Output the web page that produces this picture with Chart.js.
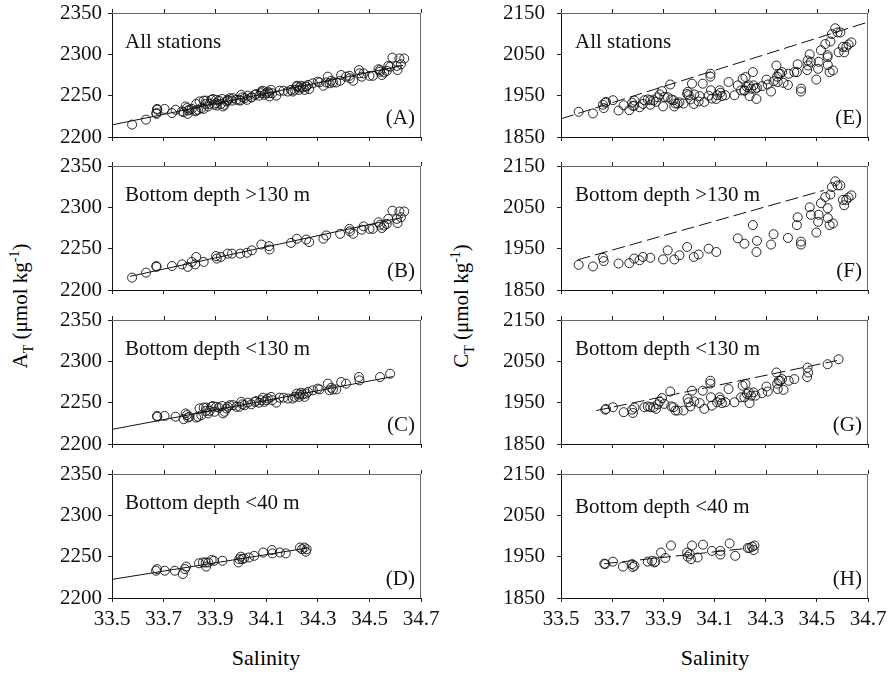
<!DOCTYPE html>
<html><head><meta charset="utf-8">
<script src="https://cdn.jsdelivr.net/npm/chart.js@4"></script>
<style>
html,body{margin:0;padding:0;background:#fff;}
#wrap{position:relative;width:890px;height:676px;overflow:hidden;background:#fff;font-family:'Liberation Serif','DejaVu Serif',serif;color:#000;}
canvas{position:absolute;}
.ytitle{position:absolute;white-space:nowrap;font-size:21px;font-family:'Liberation Serif','DejaVu Serif',serif;transform:translate(-50%,-50%) rotate(-90deg);}
.ytitle sub,.ytitle sup{font-size:14px;}
.xtitle{position:absolute;white-space:nowrap;font-size:22px;font-family:'Liberation Serif','DejaVu Serif',serif;transform:translate(-50%,-50%);}
</style></head>
<body><div id="wrap">
<div class="ytitle" style="left:22px;top:306px">A<sub>T</sub> (μmol kg<sup>-1</sup>)</div>
<div class="ytitle" style="left:463px;top:306px">C<sub>T</sub> (μmol kg<sup>-1</sup>)</div>
<div class="xtitle" style="left:266px;top:658px">Salinity</div>
<div class="xtitle" style="left:715px;top:658px">Salinity</div>
</div>
<script>
// ---- data: [salinity, value] ----
const salTicks = [33.5, 33.7, 33.9, 34.1, 34.3, 34.5, 34.7];
const panelTitles = ["All stations", "Bottom depth >130 m", "Bottom depth <130 m", "Bottom depth <40 m"];
const panelLettersAT = ["(A)", "(B)", "(C)", "(D)"];
const panelLettersCT = ["(E)", "(F)", "(G)", "(H)"];

const atDeep = [[33.578,2215],[33.632,2221],[33.672,2229],[33.673,2228],[33.733,2229],[33.772,2231],[33.794,2228],[33.81,2234],[33.827,2240],[33.823,2231],[33.856,2234],[33.904,2241],[33.907,2238],[33.923,2240],[33.949,2244],[33.966,2244],[33.998,2244],[34.024,2245],[34.043,2248],[34.08,2255],[34.11,2253],[34.112,2249],[34.195,2257],[34.218,2262],[34.254,2261],[34.266,2258],[34.321,2262],[34.332,2266],[34.386,2268],[34.422,2274],[34.424,2271],[34.437,2268],[34.47,2273],[34.477,2277],[34.5,2274],[34.513,2274],[34.535,2282],[34.541,2279],[34.548,2275],[34.557,2278],[34.567,2280],[34.573,2286],[34.589,2296],[34.606,2286],[34.609,2281],[34.616,2295],[34.622,2288],[34.635,2295]];
const atShallow = [[33.675,2234],[33.676,2233],[33.704,2234],[33.747,2233],[33.778,2230],[33.786,2237],[33.791,2235],[33.795,2232],[33.801,2233],[33.827,2232],[33.834,2233],[33.84,2243],[33.847,2235],[33.856,2244],[33.864,2240],[33.866,2244],[33.873,2237],[33.879,2240],[33.886,2245],[33.892,2246],[33.898,2239],[33.905,2245],[33.915,2244],[33.928,2246],[33.931,2237],[33.937,2239],[33.944,2243],[33.95,2245],[33.957,2247],[33.97,2247],[33.983,2245],[33.995,2245],[34.002,2251],[34.006,2248],[34.015,2247],[34.028,2250],[34.041,2248],[34.054,2251],[34.06,2252],[34.071,2250],[34.08,2253],[34.086,2256],[34.092,2251],[34.099,2253],[34.105,2255],[34.118,2257],[34.122,2253],[34.138,2250],[34.151,2256],[34.166,2256],[34.183,2255],[34.202,2255],[34.209,2257],[34.218,2261],[34.226,2257],[34.228,2260],[34.235,2262],[34.241,2260],[34.248,2257],[34.254,2261],[34.261,2263],[34.28,2265],[34.299,2267],[34.306,2266],[34.338,2273],[34.345,2265],[34.351,2268],[34.358,2266],[34.371,2266],[34.39,2275],[34.409,2273],[34.459,2281],[34.461,2277],[34.541,2281],[34.58,2285]];
const atShelf = [[33.671,2233],[33.675,2235],[33.705,2233],[33.744,2233],[33.775,2229],[33.783,2235],[33.788,2238],[33.838,2242],[33.853,2243],[33.864,2243],[33.866,2238],[33.874,2243],[33.887,2246],[33.896,2245],[33.929,2245],[33.991,2243],[33.994,2247],[34.0,2250],[34.006,2247],[34.013,2248],[34.032,2249],[34.052,2251],[34.087,2255],[34.121,2258],[34.123,2254],[34.152,2255],[34.175,2254],[34.23,2261],[34.238,2259],[34.247,2261],[34.253,2256],[34.256,2259]];

const ctDeep = [[33.569,1911],[33.625,1907],[33.664,1928],[33.667,1920],[33.725,1914],[33.767,1915],[33.786,1926],[33.807,1922],[33.82,1930],[33.849,1928],[33.899,1924],[33.917,1946],[33.943,1924],[33.963,1934],[33.993,1954],[34.019,1930],[34.038,1936],[34.077,1950],[34.107,1942],[34.191,1975],[34.217,1962],[34.25,2007],[34.264,1942],[34.266,1969],[34.321,1960],[34.331,1985],[34.387,1976],[34.422,2007],[34.425,2026],[34.438,1967],[34.438,1960],[34.472,2050],[34.477,2032],[34.498,1989],[34.505,2015],[34.507,2032],[34.516,2060],[34.533,2075],[34.542,2048],[34.543,2024],[34.55,2007],[34.553,2081],[34.563,2011],[34.559,2099],[34.572,2113],[34.581,2103],[34.592,2103],[34.602,2068],[34.607,2055],[34.615,2068],[34.624,2074],[34.635,2079]];
const ctShallow = [[33.673,1933],[33.676,1935],[33.703,1939],[33.745,1927],[33.778,1933],[33.781,1925],[33.787,1938],[33.826,1939],[33.839,1941],[33.849,1939],[33.862,1939],[33.871,1935],[33.878,1946],[33.886,1953],[33.895,1961],[33.904,1947],[33.927,1977],[33.931,1941],[33.94,1939],[33.947,1931],[33.956,1931],[33.979,1931],[33.995,1959],[33.999,1951],[34.006,1941],[34.012,1979],[34.021,1953],[34.042,1949],[34.054,1979],[34.06,1935],[34.084,2003],[34.084,1996],[34.086,1963],[34.09,1943],[34.11,1951],[34.12,1963],[34.123,1957],[34.129,1949],[34.142,1951],[34.155,1983],[34.178,1951],[34.204,1963],[34.21,1991],[34.221,1995],[34.217,1963],[34.227,1971],[34.234,1975],[34.237,1949],[34.243,1967],[34.253,1975],[34.26,1967],[34.286,1973],[34.303,1989],[34.308,1977],[34.342,2023],[34.345,1996],[34.347,1983],[34.351,2003],[34.357,2003],[34.364,2007],[34.37,1981],[34.39,2003],[34.412,2007],[34.462,2012],[34.464,2035],[34.466,2023],[34.542,2043],[34.585,2055]];
const ctShelf = [[33.669,1933],[33.673,1932],[33.703,1938],[33.742,1926],[33.778,1932],[33.781,1925],[33.787,1928],[33.839,1938],[33.856,1940],[33.865,1936],[33.869,1938],[33.891,1960],[33.908,1947],[33.93,1977],[33.993,1960],[33.995,1950],[34.003,1956],[34.008,1944],[34.012,1977],[34.034,1948],[34.055,1979],[34.09,1964],[34.123,1964],[34.123,1955],[34.159,1982],[34.181,1952],[34.23,1971],[34.237,1971],[34.247,1974],[34.256,1977],[34.253,1966]];

// regression lines [salinity, value] endpoints
const fitAT = [[[33.5,2214.6],[34.63,2286.6]], [[33.57,2216.5],[34.63,2288]], [[33.5,2217.7],[34.59,2281.5]], [[33.5,2222.5],[34.26,2260.5]]];
const fitCT = [[[33.5,1894],[34.7,2128]], [[33.565,1923],[34.527,2091]], [[33.638,1931],[34.579,2052]], [[33.669,1933],[34.24,1971]]];

const atSeries = [atDeep.concat(atShallow), atDeep, atShallow, atShelf];
const ctSeries = [ctDeep.concat(ctShallow), ctDeep, ctShallow, ctShelf];

// ---- drawing ----
const FONT = "'Liberation Serif', 'DejaVu Serif', serif";
const rowTops = [13, 166, 320, 474];
const plotH = 124;
const PADTOP = 14;
const PADBOT = 14;

const framePlugin = {
  id: 'frame',
  afterDraw(chart, args, opts) {
    const {ctx, chartArea: a, scales: {x}} = chart;
    ctx.save();
    ctx.lineWidth = 1;
    ctx.strokeStyle = '#666';
    ctx.beginPath();
    ctx.moveTo(a.left, a.top + 0.5); ctx.lineTo(a.right, a.top + 0.5);
    ctx.moveTo(a.right - 0.5, a.top); ctx.lineTo(a.right - 0.5, a.bottom);
    ctx.stroke();
    ctx.strokeStyle = '#222';
    ctx.beginPath();
    x.ticks.forEach(t => {
      const px = Math.round(x.getPixelForValue(t.value)) + 0.5;
      ctx.moveTo(px, a.top); ctx.lineTo(px, a.top - 4);
    });
    ctx.stroke();
    ctx.fillStyle = '#111';
    ctx.font = '21px ' + FONT;
    ctx.textBaseline = 'middle';
    ctx.textAlign = 'left';
    ctx.fillText(opts.title, a.left + opts.tx, a.top + opts.ty);
    ctx.textAlign = 'right';
    ctx.fillText(opts.letter, a.right - 6, a.bottom - 19);
    ctx.restore();
  }
};

function makePanel(col, row) {
  const isLeft = col === 0;
  const bottom = row === 3;
  const Wy = isLeft ? 112 : 121;
  const cx = isLeft ? 0 : 440;
  const plotRight = isLeft ? 421 : 868;
  const padR = 22;
  const cw = plotRight + padR - cx;
  const Hx = bottom ? 40 : 6;
  const padB = bottom ? 4 : PADBOT;
  const ch = PADTOP + plotH + Hx + padB;
  const canvas = document.createElement('canvas');
  canvas.width = cw; canvas.height = ch;
  canvas.style.left = cx + 'px';
  canvas.style.top = (rowTops[row] - PADTOP) + 'px';
  canvas.style.width = cw + 'px'; canvas.style.height = ch + 'px';
  document.getElementById('wrap').appendChild(canvas);

  const pts = (isLeft ? atSeries : ctSeries)[row];
  const fit = (isLeft ? fitAT : fitCT)[row];
  const ymin = isLeft ? 2200 : 1850, ymax = isLeft ? 2350 : 2150, ystep = isLeft ? 50 : 100;

  new Chart(canvas, {
    type: 'scatter',
    data: {
      datasets: [
        { type: 'line', data: fit.map(p => ({x: p[0], y: p[1]})), borderColor: '#111', borderWidth: 1,
          borderDash: isLeft ? [] : [13, 5], pointRadius: 0, fill: false, order: 2 },
        { data: pts.map(p => ({x: p[0], y: p[1]})), pointRadius: 4.5, pointBorderWidth: 0.9,
          pointBorderColor: '#111', pointBackgroundColor: 'rgba(0,0,0,0)', showLine: false, order: 1 }
      ]
    },
    options: {
      responsive: false, animation: false, devicePixelRatio: 1,
      layout: { padding: { top: PADTOP, right: padR, bottom: padB, left: 0 } },
      plugins: {
        legend: { display: false }, tooltip: { enabled: false },
        frame: { title: panelTitles[row], letter: (isLeft ? panelLettersAT : panelLettersCT)[row],
                 tx: isLeft ? 13 : 14, ty: row === 3 && !isLeft ? 33 : 29 }
      },
      scales: {
        x: {
          type: 'linear', min: 33.5, max: 34.7,
          afterBuildTicks: s => { s.ticks = salTicks.map(v => ({value: v})); },
          afterFit: s => { s.height = Hx; s.paddingLeft = 0; s.paddingRight = 0; s.paddingTop = 0; s.paddingBottom = 0; },
          border: { display: true, color: '#111', width: 1 },
          grid: { display: true, drawOnChartArea: false, drawTicks: true, tickLength: 4, color: '#222' },
          ticks: { display: bottom, padding: 5, color: '#111', font: { family: FONT, size: 21 },
                   maxRotation: 0, autoSkip: false, callback: v => Number(v).toFixed(1) }
        },
        y: {
          type: 'linear', min: ymin, max: ymax,
          afterFit: s => { s.width = Wy; s.paddingTop = 0; s.paddingBottom = 0; s.paddingLeft = 0; s.paddingRight = 0; },
          border: { display: true, color: '#111', width: 1 },
          grid: { display: true, drawOnChartArea: false, drawTicks: true, tickLength: 4, color: '#222' },
          ticks: { stepSize: ystep, padding: isLeft ? 6 : 12, color: '#111', font: { family: FONT, size: 21 },
                   callback: v => String(v) }
        }
      }
    },
    plugins: [framePlugin]
  });
}

for (let col = 0; col < 2; col++) for (let row = 0; row < 4; row++) makePanel(col, row);
</script>
</body></html>
